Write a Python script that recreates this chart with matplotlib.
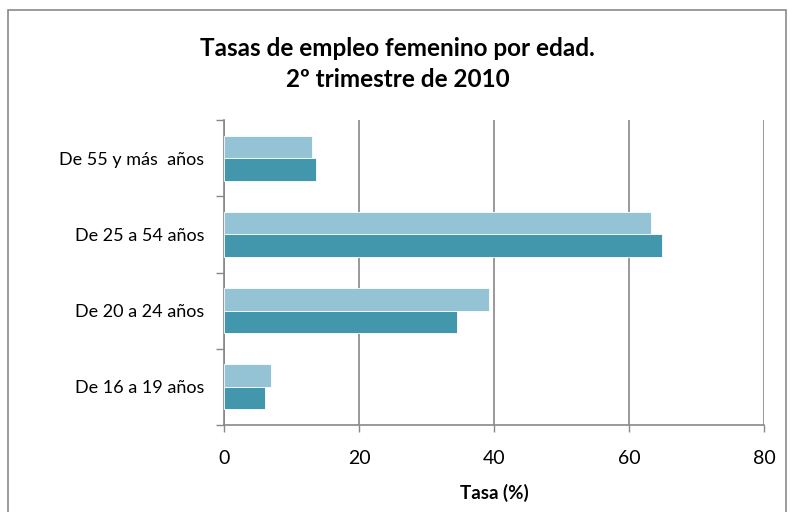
import matplotlib
matplotlib.use("Agg")
import matplotlib.pyplot as plt
from matplotlib.patches import Rectangle
import numpy as np

categories = ["De 16 a 19 años", "De 20 a 24 años", "De 25 a 54 años", "De 55 y más  años"]
serie_clara = [7.0, 39.3, 63.2, 13.1]
serie_oscura = [6.0, 34.5, 64.9, 13.6]
x_ticks = [0, 20, 40, 60, 80]

plt.rcParams['font.family'] = ['Lato', 'DejaVu Sans']

fig = plt.figure(figsize=(7.9, 5.12), dpi=100)
ax = fig.add_axes([224/790, 1-425/512, 540/790, 305/512])

y = np.arange(len(categories))
h = 0.296
ax.barh(y + h/2, serie_clara, height=h, color="#93C3D4", edgecolor="white", linewidth=0.6, zorder=3)
ax.barh(y - h/2, serie_oscura, height=h, color="#4397AD", edgecolor="white", linewidth=0.6, zorder=3)

ax.set_xlim(0, 80)
ax.set_ylim(-0.5, len(categories) - 0.5)
ax.set_xticks(x_ticks)
ax.set_xticklabels([str(v) for v in x_ticks], fontsize=14)
ax.tick_params(axis='x', length=5, color="#888888", pad=13, width=1)

ax.set_yticks(np.arange(-0.5, len(categories), 1.0))
ax.set_yticklabels([])
ax.tick_params(axis='y', which='major', length=6, color="#888888", width=1)
ax.set_yticks(y, minor=True)
ax.set_yticklabels(categories, minor=True, fontsize=13)
ax.tick_params(axis='y', which='minor', length=0, pad=14)

ax.grid(axis='x', color="#888888", linewidth=1.2, zorder=0)
for s in ['top', 'right']:
    ax.spines[s].set_visible(False)
for s in ['left', 'bottom']:
    ax.spines[s].set_color("#888888")
    ax.spines[s].set_linewidth(1.2)

ax.set_xlabel("Tasa (%)", fontsize=13.5, fontweight='bold', labelpad=12)

fig.text(0.503, 1-56/512, "Tasas de empleo femenino por edad.", ha='center', va='baseline',
         fontsize=17.5, fontweight='bold')
fig.text(0.503, 1-87/512, "2º trimestre de 2010", ha='center', va='baseline',
         fontsize=17.5, fontweight='bold')

fig.patches.append(Rectangle((8/790, -0.01), 778/790, 1-10/512+0.01, transform=fig.transFigure,
                             fill=False, edgecolor="#8a8a8a", linewidth=1.2))

fig.savefig("out.png", dpi=100)
